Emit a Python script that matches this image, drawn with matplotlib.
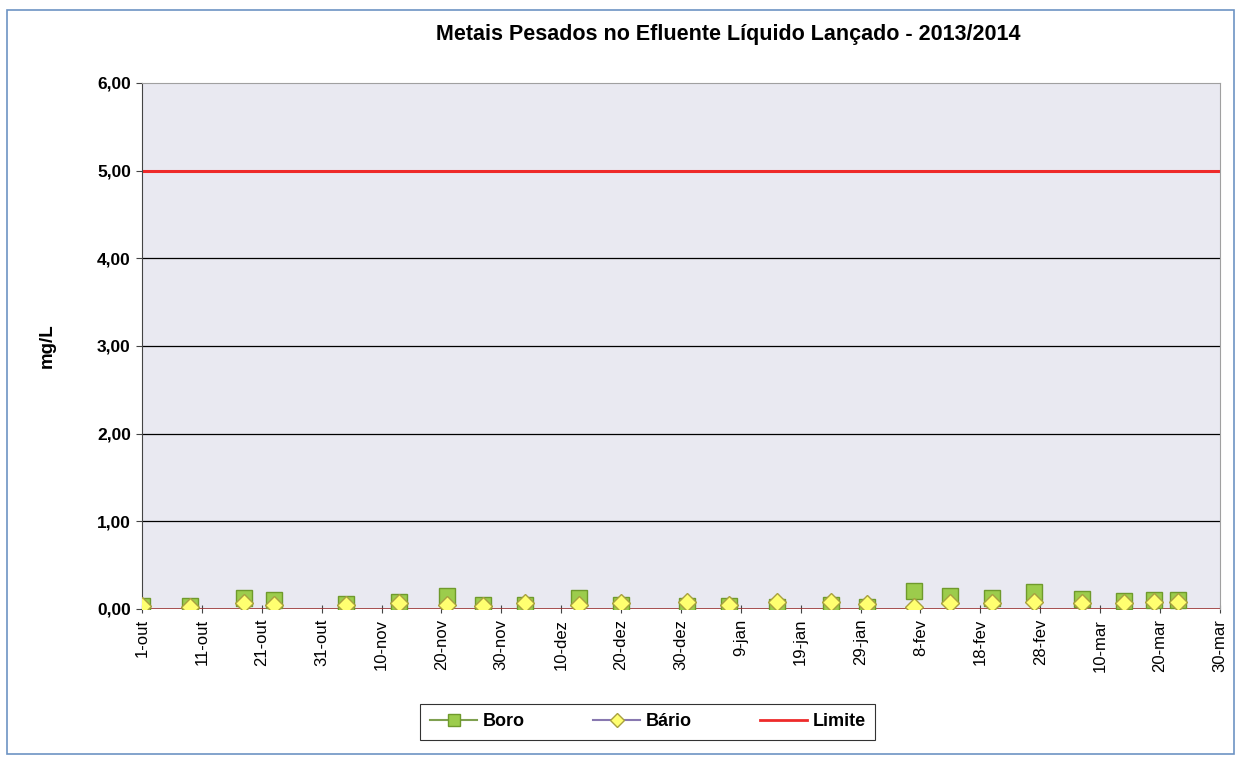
import datetime as dt
import matplotlib
matplotlib.use("Agg")
import matplotlib.pyplot as plt
from matplotlib.lines import Line2D
from matplotlib.patches import Rectangle

plt.rcParams['font.family'] = ['Liberation Sans', 'DejaVu Sans']

# sample dates (2013/2014)
dates = ["2013-10-01", "2013-10-09", "2013-10-18", "2013-10-23", "2013-11-04",
         "2013-11-13", "2013-11-21", "2013-11-27", "2013-12-04", "2013-12-13",
         "2013-12-20", "2013-12-31", "2014-01-07", "2014-01-15", "2014-01-24",
         "2014-01-30", "2014-02-07", "2014-02-13", "2014-02-20", "2014-02-27",
         "2014-03-07", "2014-03-14", "2014-03-19", "2014-03-23"]
boro = [0.03, 0.03, 0.13, 0.10, 0.06, 0.08, 0.15, 0.04, 0.05, 0.12,
        0.04, 0.03, 0.03, 0.02, 0.04, 0.02, 0.21, 0.15, 0.13, 0.19,
        0.11, 0.09, 0.10, 0.10]
bario = [0.03, 0.02, 0.07, 0.05, 0.05, 0.07, 0.05, 0.03, 0.07, 0.05,
         0.07, 0.08, 0.05, 0.08, 0.08, 0.06, 0.02, 0.07, 0.07, 0.08,
         0.07, 0.07, 0.08, 0.08]
limite = 5.0
meses = {10: "out", 11: "nov", 12: "dez", 1: "jan", 2: "fev", 3: "mar"}

x = [dt.datetime.strptime(d, "%Y-%m-%d") for d in dates]
start = dt.datetime(2013, 10, 1)
end = dt.datetime(2014, 3, 30)
ticks = [start + dt.timedelta(days=10 * i) for i in range(19)]

fig = plt.figure(figsize=(12.41, 7.60), dpi=100)
ax = fig.add_axes([0.1144, 0.1987, 0.8686, 0.6921])
ax.set_facecolor("#e9e9f1")

# outer frame
fig.patches.append(Rectangle((0.006, 0.008), 0.988, 0.979, transform=fig.transFigure,
                             fill=False, edgecolor="#6d93c4", linewidth=1.2))

for yv in [1, 2, 3, 4]:
    ax.axhline(yv, color="black", linewidth=0.9, zorder=1)
ax.axhline(limite, color="#ee2a2a", linewidth=2.2, zorder=2)
ax.axhline(0, color="#9c3434", linewidth=1.2, zorder=2)

ax.plot(x, boro, linestyle="none", marker="s", markersize=12,
        markerfacecolor="#9ccc4c", markeredgecolor="#6f9a2c", zorder=3)
ax.plot(x, bario, linestyle="none", marker="D", markersize=9.5,
        markerfacecolor="#ffff70", markeredgecolor="#a8a040", zorder=4)

ax.set_xlim(start, end)
ax.set_ylim(0, 6)
ax.set_yticks([0, 1, 2, 3, 4, 5, 6])
ax.set_yticklabels(["0,00", "1,00", "2,00", "3,00", "4,00", "5,00", "6,00"],
                   fontsize=12.5, fontweight="bold")
ax.set_xticks(ticks)
ax.set_xticklabels(["{}-{}".format(t.day, meses[t.month]) for t in ticks],
                   rotation=90, fontsize=12)
ax.tick_params(axis="x", direction="inout", length=6, color="#444444", pad=4)
ax.tick_params(axis="y", direction="out", length=4, color="#444444", pad=4)

for s in ["top", "right"]:
    ax.spines[s].set_color("#a0a0a0")
ax.spines["left"].set_color("#444444")
ax.spines["bottom"].set_visible(False)

ax.set_ylabel("mg/L", fontsize=13.5, fontweight="bold", labelpad=30)
fig.text(0.587, 0.955, "Metais Pesados no Efluente Líquido Lançado - 2013/2014",
         ha="center", va="center", fontsize=15.5, fontweight="bold")

handles = [
    Line2D([], [], color="#7fa050", marker="s", markersize=9,
           markerfacecolor="#9ccc4c", markeredgecolor="#6f9a2c"),
    Line2D([], [], color="#8878b0", marker="D", markersize=7,
           markerfacecolor="#ffff70", markeredgecolor="#a8a040"),
    Line2D([], [], color="#ee2a2a", linewidth=2),
]
leg = fig.legend(handles, ["Boro", "Bário", "Limite"], loc="center",
                 bbox_to_anchor=(0.522, 0.05), ncol=3, frameon=True,
                 fancybox=False, edgecolor="black",
                 prop={"weight": "bold", "size": 13},
                 handlelength=2.6, columnspacing=3.8, borderpad=0.55,
                 handletextpad=0.3, borderaxespad=0)
leg.get_frame().set_linewidth(0.8)

fig.savefig("out.png", dpi=100)
